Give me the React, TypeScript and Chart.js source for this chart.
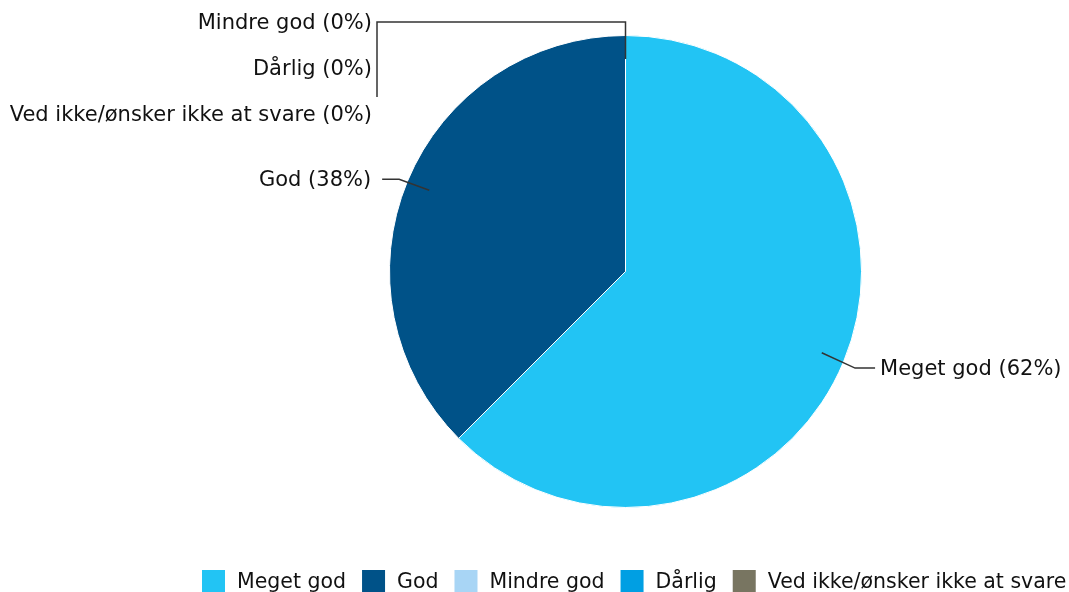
import React, { useEffect, useRef } from "react";
import { Chart, registerables } from "chart.js";

Chart.register(...registerables);

const categories = ["Meget god", "God", "Mindre god", "Dårlig", "Ved ikke/ønsker ikke at svare"];
const values = [62.5, 37.5, 0, 0, 0];
const percentLabels = ["62%", "38%", "0%", "0%", "0%"];
const colors = ["#22C4F4", "#005288", "#A8D5F5", "#009FE3", "#787561"];

const FONT = "21px 'DejaVu Sans', Verdana, sans-serif";
const LEGEND_FONT = "20.5px 'DejaVu Sans', Verdana, sans-serif";
const TEXT_COLOR = "#111111";
const LINE_COLOR = "#333333";

const labelPlugin = {
  id: "pieLabels",
  afterDraw(chart: any) {
    const ctx = chart.ctx as CanvasRenderingContext2D;
    const meta = chart.getDatasetMeta(0);
    ctx.save();
    ctx.font = FONT;
    ctx.fillStyle = TEXT_COLOR;
    ctx.strokeStyle = LINE_COLOR;
    ctx.lineWidth = 1.5;
    ctx.textBaseline = "middle";

    const zeroIdx: number[] = [];
    meta.data.forEach((arc: any, i: number) => {
      const v = values[i];
      const label = `${categories[i]} (${percentLabels[i]})`;
      if (v === 0) {
        zeroIdx.push(i);
        return;
      }
      const mid = (arc.startAngle + arc.endAngle) / 2;
      const R = arc.outerRadius;
      const right = Math.cos(mid) >= 0;
      const sx = arc.x + Math.cos(mid) * R * 0.9;
      const sy = arc.y + Math.sin(mid) * R * 0.9;
      const er = right ? R + 12.5 : R + 9;
      const ex = arc.x + Math.cos(mid) * er;
      const ey = arc.y + Math.sin(mid) * er + 1.5;
      const hx = right ? ex + 20 : ex - 17;
      ctx.beginPath();
      ctx.moveTo(sx, sy);
      ctx.lineTo(ex, ey);
      ctx.lineTo(hx, ey);
      ctx.stroke();
      ctx.textAlign = right ? "left" : "right";
      ctx.fillText(label, right ? hx + 5 : hx - 11, ey + 1);
    });

    if (zeroIdx.length) {
      const arc: any = meta.data[zeroIdx[0]];
      const ang = arc.startAngle;
      const R = arc.outerRadius;
      const sx = arc.x + Math.cos(ang) * R * 0.9;
      const sy = arc.y + Math.sin(ang) * R * 0.9;
      const topY = 22;
      const leftX = 377;
      ctx.beginPath();
      ctx.moveTo(sx, sy);
      ctx.lineTo(sx, topY);
      ctx.lineTo(leftX, topY);
      ctx.lineTo(leftX, 97);
      ctx.stroke();
      ctx.textAlign = "right";
      zeroIdx.forEach((i, k) => {
        ctx.fillText(`${categories[i]} (${percentLabels[i]})`, 372, 24 + k * 46);
      });
    }

    // legend
    ctx.font = LEGEND_FONT;
    let x = 202;
    const boxTop = 570;
    ctx.textAlign = "left";
    categories.forEach((c, i) => {
      ctx.fillStyle = colors[i];
      ctx.fillRect(x, boxTop, 23, 23);
      ctx.fillStyle = TEXT_COLOR;
      const tx = x + 35;
      ctx.fillText(c, tx, 583);
      x = tx + ctx.measureText(c).width + 16;
    });
    ctx.restore();
  },
};

export default function App() {
  const ref = useRef<HTMLCanvasElement | null>(null);
  useEffect(() => {
    document.body.style.margin = "0";
    const chart = new Chart(ref.current as HTMLCanvasElement, {
      type: "pie",
      data: {
        labels: categories,
        datasets: [
          {
            data: values,
            backgroundColor: colors,
            borderColor: "#ffffff",
            borderWidth: 1,
          },
        ],
      },
      options: {
        responsive: false,
        animation: false,
        layout: { padding: { top: 35, bottom: 84, left: 389, right: 207 } },
        plugins: {
          legend: { display: false },
          tooltip: { enabled: false },
        },
      },
      plugins: [labelPlugin],
    });
    return () => chart.destroy();
  }, []);
  return (
    <div style={{ position: "absolute", left: 0, top: 0, width: 1069, height: 592, background: "#fff" }}>
      <canvas ref={ref} width={1069} height={592} />
    </div>
  );
}
